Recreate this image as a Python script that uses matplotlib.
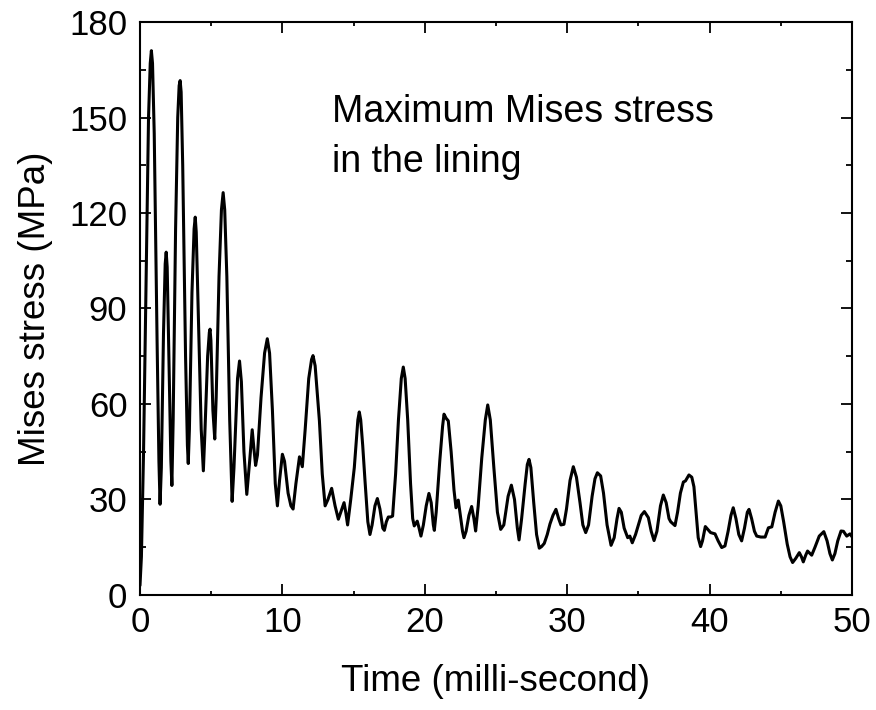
import matplotlib
matplotlib.use("Agg")
import matplotlib.pyplot as plt
from matplotlib.ticker import MultipleLocator

plt.rcParams['font.family'] = ['Liberation Sans', 'DejaVu Sans']

# Time (ms) and maximum Mises stress (MPa)
t_ms = [
    0.0, 0.1, 0.25, 0.45, 0.6, 0.72, 0.8, 0.88, 1.0, 1.2, 1.33, 1.41,
    1.5, 1.65, 1.77, 1.84, 1.91, 2.05, 2.17, 2.24, 2.33, 2.5, 2.65, 2.75,
    2.82, 2.89, 3.0, 3.2, 3.33, 3.39, 3.47, 3.65, 3.8, 3.88, 3.95, 4.1,
    4.3, 4.45, 4.55, 4.75, 4.87, 4.92, 4.98, 5.12, 5.25, 5.35, 5.55, 5.72,
    5.84, 5.95, 6.1, 6.3, 6.47, 6.6, 6.85, 6.99, 7.12, 7.3, 7.5, 7.7,
    7.88, 8.0, 8.12, 8.25, 8.5, 8.75, 8.94, 9.1, 9.3, 9.5, 9.65, 9.8,
    10.0, 10.15, 10.4, 10.6, 10.75, 10.95, 11.2, 11.4, 11.6, 11.85, 12.05, 12.15,
    12.3, 12.6, 12.8, 13.0, 13.2, 13.46, 13.7, 13.93, 14.1, 14.33, 14.45, 14.58,
    14.8, 15.05, 15.17, 15.3, 15.4, 15.5, 15.64, 15.8, 16.0, 16.15, 16.3, 16.5,
    16.67, 16.85, 17.05, 17.16, 17.3, 17.44, 17.6, 17.74, 17.95, 18.15, 18.35, 18.49,
    18.62, 18.8, 19.0, 19.15, 19.26, 19.37, 19.47, 19.6, 19.73, 19.9, 20.1, 20.29,
    20.45, 20.6, 20.67, 20.8, 21.05, 21.25, 21.35, 21.5, 21.65, 21.85, 22.05, 22.19,
    22.35, 22.5, 22.65, 22.75, 22.9, 23.1, 23.29, 23.45, 23.57, 23.75, 24.0, 24.25,
    24.42, 24.6, 24.85, 25.1, 25.33, 25.55, 25.85, 26.08, 26.3, 26.5, 26.62, 26.8,
    27.05, 27.2, 27.32, 27.45, 27.65, 27.85, 28.04, 28.2, 28.39, 28.6, 28.79, 29.0,
    29.21, 29.4, 29.56, 29.77, 29.95, 30.2, 30.43, 30.65, 30.9, 31.1, 31.3, 31.5,
    31.75, 31.95, 32.12, 32.35, 32.55, 32.8, 33.08, 33.3, 33.5, 33.64, 33.8, 34.0,
    34.25, 34.4, 34.57, 34.8, 35.0, 35.2, 35.42, 35.7, 35.9, 36.1, 36.3, 36.55,
    36.75, 36.95, 37.15, 37.27, 37.57, 37.75, 37.95, 38.16, 38.3, 38.55, 38.75, 38.9,
    39.05, 39.2, 39.37, 39.5, 39.7, 40.07, 40.38, 40.6, 40.85, 41.08, 41.3, 41.5,
    41.66, 41.85, 42.05, 42.25, 42.45, 42.65, 42.77, 42.95, 43.15, 43.31, 43.6, 43.9,
    44.13, 44.37, 44.6, 44.83, 45.0, 45.2, 45.45, 45.65, 45.83, 46.05, 46.3, 46.45,
    46.58, 46.75, 46.88, 47.17, 47.4, 47.7, 48.02, 48.25, 48.45, 48.62, 48.8, 49.0,
    49.23, 49.4, 49.63, 49.86, 50.0,
]
stress_mpa = [
    3, 12, 45, 105, 150, 167, 171, 167, 145, 80, 42, 28.5,
    40, 82, 104, 107.7, 103, 70, 42, 34.4, 55, 115, 150, 160,
    161.6, 158, 135, 75, 47, 41.3, 52, 95, 115, 118.7, 114, 88,
    52, 39, 50, 75, 82.5, 83.5, 80, 58, 49, 62, 100, 121,
    126.4, 121, 100, 55, 29.4, 40, 68, 73.5, 67, 45, 31.6, 42,
    51.9, 46, 40.7, 44, 62, 76, 80.5, 76, 58, 35, 28, 36,
    44.2, 42, 32, 28, 27, 35, 43.4, 40.3, 52, 68, 74, 75.2,
    72, 54.7, 38, 28, 30, 33.5, 28, 23.8, 26, 29, 26, 22,
    30, 40, 47, 55, 57.5, 55, 47, 36, 23, 19, 22, 28,
    30.3, 27, 21, 20.3, 23, 24.5, 24.5, 24.8, 38, 55, 68, 71.6,
    68, 55, 35, 24, 21.7, 22.5, 23.2, 21, 18.5, 22, 28, 31.9,
    29, 22, 20.3, 26, 42, 53, 56.8, 55.5, 54.7, 45, 33, 27.4,
    29.8, 25, 20, 18, 20, 25, 27.8, 24, 20.1, 28, 43, 55,
    59.7, 55, 40, 26, 20.6, 22, 31, 34.5, 30, 21, 17.3, 24,
    35, 41, 42.6, 40, 29, 19, 14.7, 15.2, 16.2, 19, 22.3, 25,
    26.9, 24, 22, 22.2, 27, 36, 40.3, 37, 29, 22, 19.6, 22,
    31, 36.5, 38.4, 37.4, 32, 22, 15.6, 18, 24, 27.2, 26, 21,
    18.0, 18.5, 16.4, 19, 22, 25, 26.2, 24.3, 20, 17.1, 20, 28,
    31.4, 29, 24, 23, 21.8, 26, 32, 35.5, 35.8, 37.7, 37, 34,
    26, 18, 15.2, 17, 21.5, 19.6, 19.2, 17, 14.9, 15.4, 20, 25,
    27.4, 24, 19, 17, 21, 26, 26.9, 24, 20, 18.5, 18.2, 18.2,
    21.1, 21.4, 26, 29.5, 28, 23, 16, 12, 10.2, 11.5, 13.3, 12,
    10.4, 12.5, 13.8, 12.5, 15, 18.5, 19.9, 17, 13, 11.0, 13, 17,
    20.1, 20, 18.5, 19.2, 18.3,
]

x_ticks = [0, 10, 20, 30, 40, 50]
y_ticks = [0, 30, 60, 90, 120, 150, 180]

fig = plt.figure(figsize=(8.76, 7.10), dpi=100)
ax = fig.add_axes([0.1598, 0.162, 0.8128, 0.807])

ax.plot(t_ms, stress_mpa, color='black', linewidth=2.2,
        solid_joinstyle='round', solid_capstyle='round')

ax.set_xlim(0, 50)
ax.set_ylim(0, 180)
ax.set_xticks(x_ticks)
ax.set_yticks(y_ticks)
ax.xaxis.set_minor_locator(MultipleLocator(5))
ax.yaxis.set_minor_locator(MultipleLocator(15))

ax.tick_params(which='both', direction='in', top=True, right=True,
               labelsize=25, width=1.3)
ax.tick_params(axis='x', which='major', length=8, pad=8)
ax.tick_params(axis='y', which='major', length=8, pad=9)
ax.tick_params(axis='x', which='minor', length=3)
ax.tick_params(axis='y', which='minor', length=4.5)
for s in ax.spines.values():
    s.set_linewidth(1.5)

ax.set_xlabel('Time (milli-second)', fontsize=26.5, labelpad=18)
ax.set_ylabel('Mises stress (MPa)', fontsize=26.5, labelpad=12)

ax.text(0.27, 0.875, 'Maximum Mises stress\nin the lining', transform=ax.transAxes,
        fontsize=27, va='top', ha='left', linespacing=1.53)

fig.savefig('out.png', dpi=100)
